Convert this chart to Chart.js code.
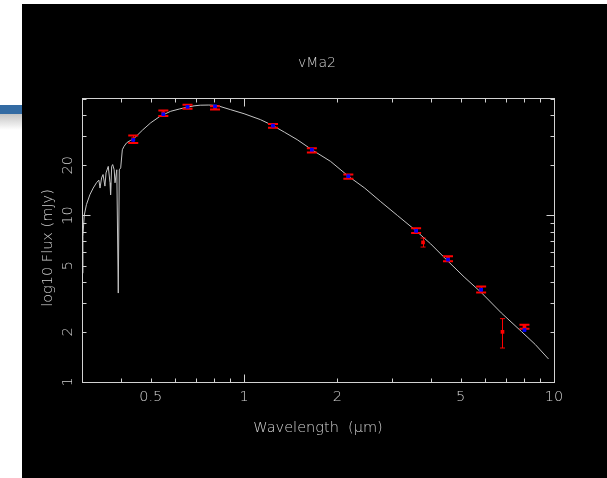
<!DOCTYPE html>
<html>
<head>
<meta charset="utf-8">
<script src="https://cdn.jsdelivr.net/npm/chart.js@4"></script>
<style>
  html, body { margin:0; padding:0; background:#ffffff; width:607px; height:478px; overflow:hidden; }
  #bar { position:absolute; left:0; top:105px; width:22px; height:9px; background:#336ba3; }
  #fade { position:absolute; left:0; top:114px; width:22px; height:16px; background:linear-gradient(#c4c4c4,#ffffff); }
  #panel { position:absolute; left:22px; top:4px; width:585px; height:474px; background:#000000; }
  #c { display:block; }
</style>
</head>
<body>
<div id="bar"></div><div id="fade"></div>
<div id="panel"><canvas id="c" width="585" height="474"></canvas></div>
<script>
// ---- data ----
const titleText = "vMa2";
const xTitle = "Wavelength  (\u03bcm)";
const yTitle = "log10 Flux (mJy)";

const specLam  = [0.300, 0.302, 0.305, 0.310, 0.318, 0.326, 0.334, 0.340, 0.343, 0.347, 0.3508, 0.3557, 0.3586, 0.3646, 0.3694, 0.371, 0.374, 0.3768, 0.381, 0.3834, 0.3885, 0.3928, 0.3958, 0.3999, 0.4048, 0.410, 0.418, 0.430, 0.440, 0.470, 0.500, 0.536, 0.580, 0.620, 0.654, 0.690, 0.722, 0.770, 0.818, 0.903, 1.000, 1.129, 1.240, 1.350, 1.484, 1.655, 1.902, 2.170, 2.450, 2.760, 3.130, 3.590, 4.000, 4.550, 5.130, 5.820, 6.760, 7.850, 8.700, 9.600];
const specFlux = [4.5, 7.5, 10.0, 11.6, 13.3, 14.6, 15.7, 16.3, 14.6, 16.8, 17.6, 15.0, 18.0, 19.7, 15.7, 13.3, 19.7, 20.2, 18.8, 15.7, 18.8, 3.42, 18.8, 19.3, 24.8, 26.0, 27.3, 28.2, 28.8, 32.5, 36.0, 39.4, 42.2, 43.6, 44.6, 45.5, 45.9, 46.0, 45.7, 43.2, 40.8, 37.6, 34.6, 31.6, 28.5, 24.8, 21.1, 17.2, 14.6, 12.1, 9.97, 8.08, 6.75, 5.31, 4.27, 3.45, 2.60, 2.01, 1.68, 1.375];

const obsLam    = [0.439, 0.549, 0.657, 0.806, 1.24, 1.655, 2.17, 3.59, 3.78, 4.55, 5.82, 6.82, 8.03];
const obsFlux   = [28.7, 41.1, 45.0, 44.2, 34.5, 24.6, 17.1, 8.12, 6.89, 5.49, 3.60, 2.00, 2.15];
const obsErr    = [1.5, 1.6, 1.25, 1.0, 0.9, 0.75, 0.5, 0.27, 0.43, 0.19, 0.15, 0.40, 0.06];
const modelFlux = [28.4, 40.5, 44.9, 45.2, 34.6, 24.8, 17.2, 8.08, null, 5.43, 3.58, null, 2.05];

const xLabelTicks = [0.5, 1, 2, 5, 10];
const yLabelTicks = [1, 2, 5, 10, 20];
const xMajorTicks = [1, 10];
const xMinorTicks = [0.3, 0.4, 0.5, 0.6, 0.7, 0.8, 0.9, 2, 3, 4, 5, 6, 7, 8, 9];
const yMajorTicks = [1, 10];
const yMinorTicks = [2, 3, 4, 5, 6, 7, 8, 9, 20, 30, 40, 50];

// ---- styling ----
const FG = '#d2d2d2';
const FONT = "200 14.5px 'DejaVu Sans'";

const specData  = specLam.map((l, i) => ({x: l, y: specFlux[i]}));
const obsData   = obsLam.map((l, i) => ({x: l, y: obsFlux[i]}));
const modelData = obsLam.map((l, i) => ({x: l, y: modelFlux[i]})).filter(p => p.y !== null);

const errorBars = {
  id: 'errorBars',
  beforeDatasetDraw(chart, args) {
    if (args.index !== 1) return;
    const {ctx, scales: {x, y}} = chart;
    ctx.save();
    ctx.strokeStyle = '#ff0000';
    obsLam.forEach((l, i) => {
      const px = x.getPixelForValue(l);
      const yt = y.getPixelForValue(obsFlux[i] + obsErr[i]);
      const yb = y.getPixelForValue(obsFlux[i] - obsErr[i]);
      const big = modelFlux[i] !== null;
      const hw = big ? 5 : 2.5;
      ctx.lineWidth = 1;
      ctx.beginPath();
      ctx.moveTo(Math.round(px) + 0.5, yt);
      ctx.lineTo(Math.round(px) + 0.5, yb);
      ctx.stroke();
      ctx.lineWidth = big ? 2 : 1;
      ctx.beginPath();
      ctx.moveTo(px - hw, yt); ctx.lineTo(px + hw, yt);
      ctx.moveTo(px - hw, yb); ctx.lineTo(px + hw, yb);
      ctx.stroke();
    });
    ctx.restore();
  }
};

const frame = {
  id: 'frame',
  afterDraw(chart) {
    const {ctx, chartArea: a, scales: {x, y}} = chart;
    ctx.save();
    ctx.strokeStyle = FG;
    ctx.lineWidth = 1;
    const L = Math.round(a.left) + 0.5, R = Math.round(a.right) + 0.5;
    const T = Math.round(a.top) + 0.5, B = Math.round(a.bottom) + 0.5;
    ctx.strokeRect(L, T, R - L, B - T);
    const xt = (vals, len) => vals.forEach(v => {
      const p = Math.round(x.getPixelForValue(v)) + 0.5;
      ctx.beginPath();
      ctx.moveTo(p, B); ctx.lineTo(p, B - len);
      ctx.moveTo(p, T); ctx.lineTo(p, T + len);
      ctx.stroke();
    });
    const yt = (vals, len) => vals.forEach(v => {
      const p = Math.round(y.getPixelForValue(v)) + 0.5;
      ctx.beginPath();
      ctx.moveTo(L, p); ctx.lineTo(L + len, p);
      ctx.moveTo(R, p); ctx.lineTo(R - len, p);
      ctx.stroke();
    });
    xt(xMinorTicks, 4); xt(xMajorTicks, 8);
    yt(yMinorTicks, 4); yt(yMajorTicks, 8);

    ctx.fillStyle = FG;
    ctx.font = FONT;
    ctx.textAlign = 'center';
    ctx.textBaseline = 'middle';
    xLabelTicks.forEach(v => ctx.fillText(String(v), x.getPixelForValue(v), a.bottom + 15));
    ctx.font = "200 14px 'DejaVu Sans'";
    ctx.fillText(titleText, 295, 59);
    ctx.font = FONT;
    ctx.fillText(xTitle, 296, 424);
    yLabelTicks.forEach(v => {
      ctx.save();
      ctx.translate(a.left - 14, y.getPixelForValue(v));
      ctx.rotate(-Math.PI / 2);
      ctx.fillText(String(v), 0, 0);
      ctx.restore();
    });
    ctx.save();
    ctx.translate(26, 244);
    ctx.rotate(-Math.PI / 2);
    ctx.fillText(yTitle, 0, 0);
    ctx.restore();
    ctx.restore();
  }
};

new Chart(document.getElementById('c'), {
  type: 'scatter',
  data: {
    datasets: [
      { label: 'model', data: modelData, pointStyle: 'rect', pointRadius: 2.6, backgroundColor: '#0000ff', borderColor: '#0000ff', borderWidth: 0 },
      { label: 'observed', data: obsData, pointStyle: 'rect', pointRadius: 2.6, backgroundColor: '#ff0000', borderColor: '#ff0000', borderWidth: 0 },
      { label: 'spectrum', type: 'line', data: specData, showLine: true, pointRadius: 0, borderColor: '#c4c4c4', borderWidth: 1, tension: 0, fill: false }
    ]
  },
  options: {
    responsive: false,
    animation: false,
    events: [],
    layout: { padding: { left: 60, right: 53, top: 94, bottom: 96 } },
    plugins: { legend: { display: false }, tooltip: { enabled: false }, title: { display: false } },
    scales: {
      x: { type: 'logarithmic', min: 0.3, max: 10, display: false },
      y: { type: 'logarithmic', min: 1, max: 50.7, display: false }
    }
  },
  plugins: [errorBars, frame]
});
</script>
</body>
</html>
